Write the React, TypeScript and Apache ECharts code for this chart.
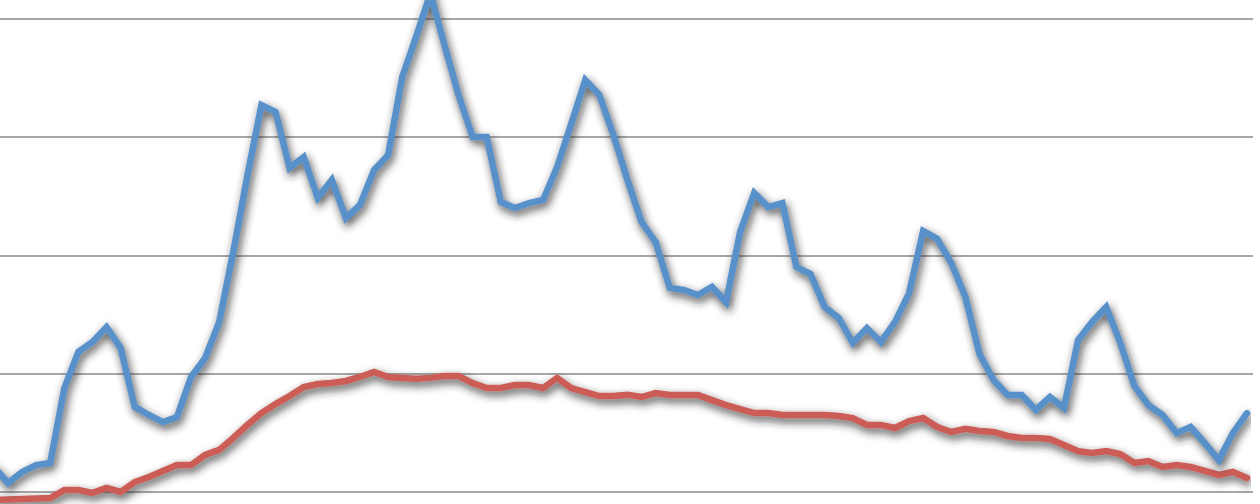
import React, { useEffect, useRef } from "react";
import * as echarts from "echarts";

// Categories (unlabelled in the reference) – one per data point
const categories: string[] = Array.from({ length: 90 }, (_, i) => String(i + 1));

// Gridline values (the reference shows no labels)
const yMin = -50;
const yMax = 250;
const yInterval = 50;

// Blue series values
const blueSeries: number[] = [
  10.4, 3.6, 8.3, 11.2, 12.1, 43.8, 59.1, 63.3, 69.6, 60.8,
  35.8, 32.4, 29.4, 31.5, 48.5, 56.5, 71.8, 101.4, 133.6, 163.6,
  160.7, 137.0, 141.6, 124.3, 131.9, 115.8, 121.3, 136.1, 142.5, 175.5,
  192.8, 210.8, 189.0, 167.9, 150.1, 150.1, 122.6, 120.0, 122.1, 123.4,
  137.4, 155.6, 174.2, 167.9, 150.9, 131.9, 114.1, 105.6, 86.2, 85.3,
  83.2, 86.6, 80.2, 109.9, 126.4, 120.4, 122.1, 95.0, 92.1, 78.1,
  73.5, 62.9, 69.2, 63.3, 71.8, 84.0, 110.3, 106.9, 96.7, 82.3,
  58.2, 47.2, 40.9, 40.9, 34.5, 40.0, 35.4, 64.1, 71.8, 78.1,
  62.9, 44.7, 36.6, 32.4, 24.8, 27.3, 20.5, 13.3, 24.8, 33.2,
];

// Red series values
const redSeries: number[] = [
  -3.6, -3.4, -3.2, -3.0, -2.8, 0.6, 0.6, -0.6, 1.5, -0.2,
  4.0, 6.1, 8.7, 11.2, 11.2, 15.5, 17.6, 22.7, 28.2, 33.2,
  37.0, 40.4, 44.2, 45.5, 45.9, 46.8, 48.5, 50.6, 48.5, 48.1,
  47.7, 48.1, 48.9, 48.9, 45.9, 43.8, 43.8, 45.1, 45.1, 43.8,
  48.1, 43.8, 42.1, 40.4, 40.4, 40.9, 40.0, 41.7, 40.9, 40.9,
  40.9, 38.7, 36.6, 34.9, 33.2, 33.2, 32.4, 32.4, 32.4, 32.4,
  32.0, 31.1, 28.2, 28.2, 26.9, 29.8, 31.1, 27.3, 25.2, 26.5,
  25.6, 25.2, 23.5, 22.7, 22.7, 22.2, 19.7, 17.1, 16.3, 17.1,
  15.9, 12.1, 12.9, 10.4, 11.2, 10.4, 8.7, 7.0, 8.3, 5.7,
];

const BLUE = "#5890CA";
const RED = "#CB5D57";

export default function App() {
  const ref = useRef<HTMLDivElement>(null);

  useEffect(() => {
    if (!ref.current) return;
    const chart = echarts.init(ref.current, undefined, { renderer: "svg" });
    const top = -99;
    const bottom = -105.6;
    const shadow = {
      shadowColor: "rgba(40,40,40,0.85)",
      shadowBlur: 9,
      shadowOffsetX: 2,
      shadowOffsetY: 4,
    };
    chart.setOption({
      animation: false,
      backgroundColor: "#ffffff",
      grid: [
        { left: 0, right: 7, top, bottom, containLabel: false, outerBoundsMode: "none" },
        { left: -6.08, right: 13, top, bottom, containLabel: false, outerBoundsMode: "none" },
      ],
      xAxis: [
        { type: "value", gridIndex: 0, show: false, min: 0, max: 1 },
        {
          type: "category",
          gridIndex: 1,
          data: categories,
          boundaryGap: false,
          show: false,
        },
      ],
      yAxis: [
        {
          type: "value",
          gridIndex: 0,
          min: yMin,
          max: yMax,
          interval: yInterval,
          axisLine: { show: false },
          axisTick: { show: false },
          axisLabel: { show: false },
          splitLine: { show: true, lineStyle: { color: "#8a8a8a", width: 1.5 } },
        },
        {
          type: "value",
          gridIndex: 1,
          min: yMin,
          max: yMax,
          interval: yInterval,
          show: false,
          splitLine: { show: false },
        },
      ],
      series: [
        {
          type: "line",
          name: "Red",
          xAxisIndex: 1,
          yAxisIndex: 1,
          data: redSeries,
          showSymbol: false,
          symbol: "none",
          lineStyle: { color: RED, width: 6.5, join: "miter", cap: "round", ...shadow },
          z: 2,
        },
        {
          type: "line",
          name: "Blue",
          xAxisIndex: 1,
          yAxisIndex: 1,
          data: blueSeries,
          showSymbol: false,
          symbol: "none",
          lineStyle: { color: BLUE, width: 6.5, join: "miter", cap: "round", ...shadow },
          z: 3,
        },
      ],
    });
    return () => chart.dispose();
  }, []);

  return (
    <div
      ref={ref}
      style={{ position: "fixed", left: 0, top: 0, width: 1260, height: 504, background: "#fff" }}
    />
  );
}
